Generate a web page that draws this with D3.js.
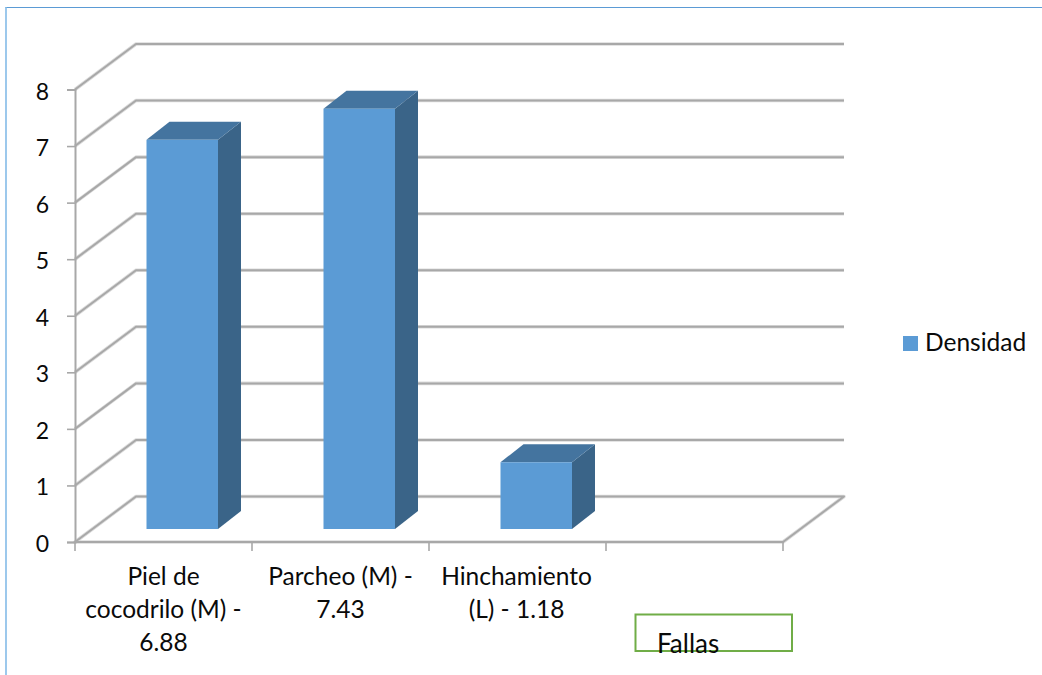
<!DOCTYPE html>
<html lang="es">
<head>
<meta charset="utf-8">
<title>Densidad por falla</title>
<script src="https://cdn.jsdelivr.net/npm/d3@7/dist/d3.min.js"></script>
<style>
  html, body { margin: 0; padding: 0; background: #fff; }
  svg { display: block; }
  text { font-family: Lato, "Open Sans", sans-serif; fill: #0a0a0a; }
</style>
</head>
<body>
<svg id="chart" width="1042" height="675"></svg>
<script>
// Chart data
const categories = ["Piel de cocodrilo (M) - 6.88", "Parcheo (M) - 7.43", "Hinchamiento (L) - 1.18", ""];
const categoryLines = [["Piel de", "cocodrilo (M) -", "6.88"], ["Parcheo (M) -", "7.43"], ["Hinchamiento", "(L) - 1.18"], []];
const densidad = [6.88, 7.43, 1.18];
const yTicks = [0, 1, 2, 3, 4, 5, 6, 7, 8];
const seriesName = "Densidad";
const axisTitle = "Fallas";

const W = 1042, H = 675;
const FONT = 24.5, FONT_Y = 23, FONT_TITLE = 26;
const svg = d3.select("#chart");

// Scales for the front plane of the 3D box
const x = d3.scaleBand().domain(categories.map((c, i) => i)).range([75, 783]);
const y = d3.scaleLinear().domain([0, 8]).range([542, 89.5]);

// Offset from the front plane to the back wall
const wallDx = 61, wallDy = -45.5;
// Bar placement inside each band, and the depth of the bar itself
const barW = 71.5, barInset = 71.5, barLift = 13, barDx = 23, barDy = -18;

const GRID = "#a8a8a8", FRONT = "#5b9bd5", TOP = "#44749f", SIDE = "#3a6488";

// Page frame
svg.append("line").attr("x1", 5.5).attr("x2", W).attr("y1", 7.5).attr("y2", 7.5)
  .attr("stroke", "#5b9bd5").attr("stroke-width", 1.2);
svg.append("line").attr("x1", 6).attr("x2", 6).attr("y1", 7).attr("y2", H)
  .attr("stroke", "#84bbe8").attr("stroke-width", 1.6);

// Walls: each tick gets a diagonal on the side wall and a line on the back wall
const xLeft = x.range()[0], xRight = x.range()[1];
const grid = svg.append("g").attr("fill", "none").attr("stroke-linejoin", "round");
const wallPath = v => {
  const p = d3.path();
  p.moveTo(xLeft, y(v));
  p.lineTo(xLeft + wallDx, y(v) + wallDy);
  p.lineTo(xRight + wallDx, y(v) + wallDy);
  if (v === 0) { p.lineTo(xRight, y(v)); p.closePath(); }
  return p.toString();
};
grid.selectAll("path.halo").data(yTicks).join("path").attr("class", "halo")
  .attr("d", wallPath).attr("stroke", "#dcdcdc").attr("stroke-width", 3.6);
grid.selectAll("path.wall").data(yTicks).join("path").attr("class", "wall")
  .attr("d", wallPath).attr("stroke", GRID).attr("stroke-width", 2);

// Value axis with d3's own tick generator
const yAxis = svg.append("g").attr("transform", `translate(${xLeft},0)`)
  .call(d3.axisLeft(y).tickValues(yTicks).tickSize(8).tickPadding(18).tickFormat(d3.format("d")));
yAxis.select(".domain").attr("stroke", GRID).attr("stroke-width", 2);
yAxis.selectAll(".tick line").attr("stroke", GRID).attr("stroke-width", 1.6);
yAxis.selectAll(".tick text").attr("font-size", FONT_Y).attr("font-family", null)
  .attr("fill", null).attr("dy", 9.5);

// Category axis: ticks on the band edges, wrapped labels below
const edges = d3.range(categories.length + 1).map(i => xLeft + i * x.step());
svg.append("g").selectAll("line").data(edges).join("line")
  .attr("x1", d => d).attr("x2", d => d)
  .attr("y1", y(0)).attr("y2", y(0) + 9)
  .attr("stroke", GRID).attr("stroke-width", 1.6);

const labelShift = [0, 0, -1, 0];
const labels = svg.append("g").attr("text-anchor", "middle").attr("font-size", FONT);
categoryLines.forEach((lines, i) => {
  labels.selectAll(null).data(lines).join("text")
    .attr("x", x(i) + x.bandwidth() / 2 + labelShift[i])
    .attr("y", (d, j) => 585 + j * 33)
    .text(d => d);
});

// Bars drawn as a front face plus top and side faces
const bars = svg.append("g").selectAll("g").data(densidad).join("g");
const bx = (i) => x(i) + barInset;
const by = v => y(v) - barLift;
const poly = pts => pts.map(p => p.join(",")).join(" ");

bars.append("polygon").attr("fill", SIDE).attr("points", (d, i) => poly([
  [bx(i) + barW, by(d)], [bx(i) + barW + barDx, by(d) + barDy],
  [bx(i) + barW + barDx, by(0) + barDy], [bx(i) + barW, by(0)]
]));
bars.append("polygon").attr("fill", TOP).attr("points", (d, i) => poly([
  [bx(i), by(d)], [bx(i) + barDx, by(d) + barDy],
  [bx(i) + barW + barDx, by(d) + barDy], [bx(i) + barW, by(d)]
]));
bars.append("rect").attr("fill", FRONT)
  .attr("x", (d, i) => bx(i)).attr("y", d => by(d))
  .attr("width", barW).attr("height", d => by(0) - by(d));

// Legend
svg.append("rect").attr("x", 903).attr("y", 336).attr("width", 15).attr("height", 15).attr("fill", FRONT);
svg.append("text").attr("x", 925).attr("y", 351).attr("font-size", FONT).text(seriesName);

// Axis title box
svg.append("rect").attr("x", 635.5).attr("y", 614.5).attr("width", 156.5).attr("height", 36.5)
  .attr("fill", "none").attr("stroke", "#70ad47").attr("stroke-width", 2);
svg.append("text").attr("x", 657).attr("y", 653).attr("font-size", FONT_TITLE).text(axisTitle);
</script>
</body>
</html>
